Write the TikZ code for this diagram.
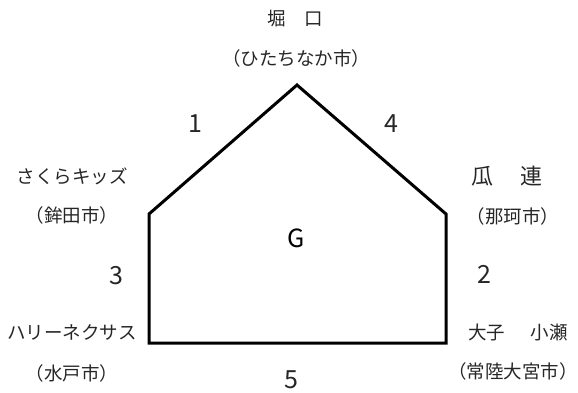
\documentclass[tikz,border=0pt]{standalone}
\usepackage{fontspec}
\setmainfont{Noto Sans CJK JP}
\newfontfamily\halfp{Noto Sans CJK JP}[RawFeature=+halt]
\newcommand{\prn}[1]{{\halfp （}#1{\halfp ）}}
\begin{document}
\begin{tikzpicture}[x=1pt,y=-1pt,
  lbl/.style={inner sep=0pt,font=\fontsize{18.5}{22}\selectfont,text=black!85},
  num/.style={inner sep=0pt,font=\fontsize{25}{29}\selectfont,text=black!85},
  edge/.style={line width=3pt,line join=miter}]
\useasboundingbox (0,0) rectangle (578,392);
\coordinate (A) at (297,85);
\coordinate (R) at (446,214);
\coordinate (BR) at (446,343);
\coordinate (BL) at (149,343);
\coordinate (L) at (149,214);
\draw[edge] (A) -- (R) -- (BR) -- (BL) -- (L) -- cycle;
\node[num,text=black] (g) at (296,238) {G};
\node[num] (n1) at (195,124) {1};
\node[num] (n4) at (391,124) {4};
\node[num] (n3) at (116,276) {3};
\node[num] (n2) at (484,274) {2};
\node[num] (n5) at (291,380) {5};
\node[lbl] (t1) at (295,19) {堀　口};
\node[lbl] (t2) at (296,58) {\prn{ひたちなか市}};
\node[lbl] (l1) at (72,176) {さくらキッズ};
\node[lbl] (l2) at (72,215) {\prn{鉾田市}};
\node[lbl,font=\fontsize{22}{26}\selectfont] (r1) at (507,176) {瓜\hspace{1.2em}連};
\node[lbl] (r2) at (513,216) {\prn{那珂市}};
\node[lbl] (bl1) at (72,332) {ハリーネクサス};
\node[lbl] (bl2) at (72,373) {\prn{水戸市}};
\node[lbl] (br1) at (518,332) {大子\hspace{1.4em}小瀬};
\node[lbl] (br2) at (513,371) {\prn{常陸大宮市}};
\end{tikzpicture}
\end{document}
